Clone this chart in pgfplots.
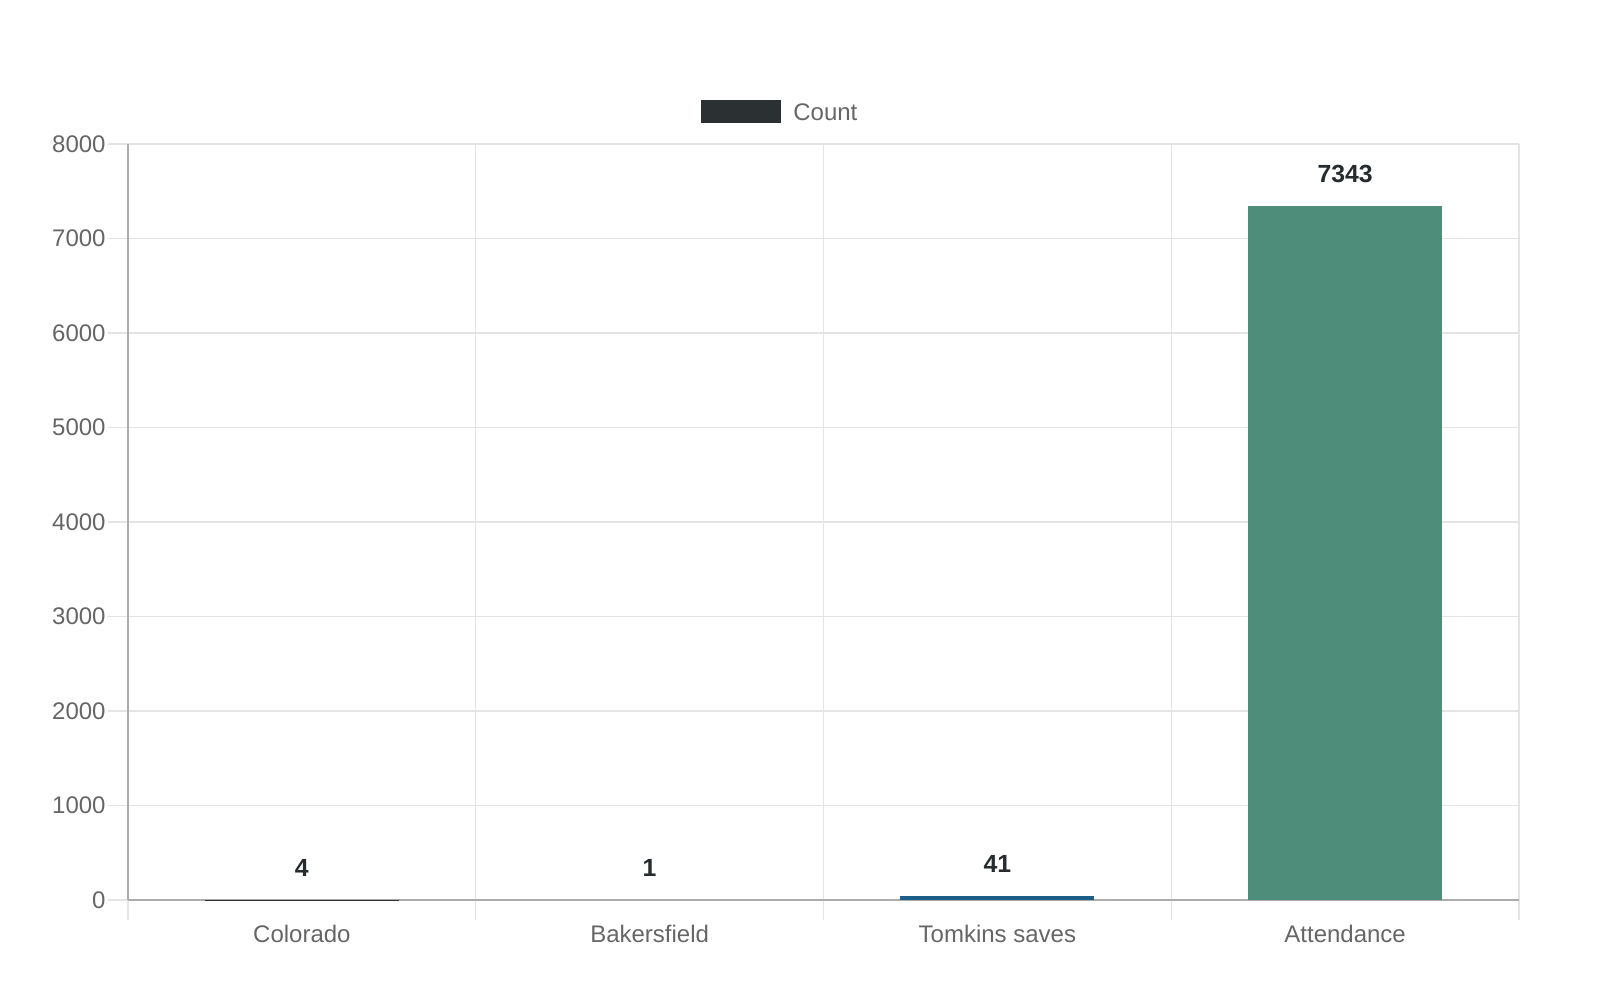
\documentclass[border=0pt]{standalone}
\usepackage{fontspec}
\setmainfont{Liberation Sans}
\usepackage{pgfplots}
\pgfplotsset{compat=1.18}

\definecolor{gridgray}{HTML}{E4E4E4}
\definecolor{axisgray}{HTML}{ACACAC}
\definecolor{textgray}{HTML}{666666}
\definecolor{labeldark}{HTML}{262B2D}
\definecolor{coloradoc}{HTML}{2B3133}
\definecolor{tomkinsc}{HTML}{1B5E87}
\definecolor{attendc}{HTML}{4F8D7B}

\begin{document}
\begin{tikzpicture}
\path[use as bounding box, fill=white] (0,0) rectangle (800pt,500pt);
\begin{axis}[
    at={(64pt,50pt)}, anchor=south west,
    scale only axis,
    width=695.5pt, height=378pt,
    xmin=-0.5, xmax=3.5,
    ymin=0, ymax=8000,
    ybar, bar width=97pt, bar shift=0pt,
    axis x line*=bottom, axis y line*=left,
    axis line style={draw=axisgray, line width=0.9pt},
    tick align=outside,
    xtick={0,1,2,3},
    xticklabels={Colorado, Bakersfield, Tomkins saves, Attendance},
    major x tick style={draw=none},
    minor xtick={-0.5,0.5,1.5,2.5,3.5},
    minor tick length=10pt,
    minor tick style={draw=gridgray, line width=0.6pt},
    minor x grid style={draw=gridgray, line width=0.6pt},
    xminorgrids=true,
    ytick={0,1000,...,8000},
    major tick length=10pt,
    major y tick style={draw=gridgray, line width=0.6pt},
    ymajorgrids=true,
    major y grid style={draw=gridgray, line width=0.6pt},
    scaled y ticks=false,
    /pgf/number format/assume math mode=true,
    /pgf/number format/1000 sep={},
    tick label style={font=\fontsize{12pt}{14pt}\selectfont, text=textgray},
    x tick label style={anchor=north, inner sep=0pt, yshift=-2.5pt},
    y tick label style={anchor=east, inner sep=0pt, xshift=-1pt},
    nodes near coords,
    every node near coord/.append style={font=\bfseries\fontsize{12.4pt}{14pt}\selectfont,
        text=labeldark, anchor=south, inner sep=0pt, yshift=11.5pt},
    clip=false,
    legend style={at={(0.4119,1.0423)}, anchor=west, draw=none, fill=none,
        inner sep=0pt, nodes={inner sep=0pt, text=textgray,
        font=\fontsize{12pt}{14pt}\selectfont},
        /tikz/every odd column/.append style={column sep=6pt}},
    legend image code/.code={\fill[coloradoc] (0pt,-4.5pt) rectangle (40pt,7pt);},
]
\addplot[fill=coloradoc, draw=none] coordinates {(0,4)};
\addlegendentry{Count}
\addplot[fill=axisgray, draw=none, forget plot] coordinates {(1,1)};
\addplot[fill=tomkinsc, draw=none, forget plot] coordinates {(2,41)};
\addplot[fill=attendc, draw=none, forget plot] coordinates {(3,7343)};
\end{axis}
\end{tikzpicture}
\end{document}
